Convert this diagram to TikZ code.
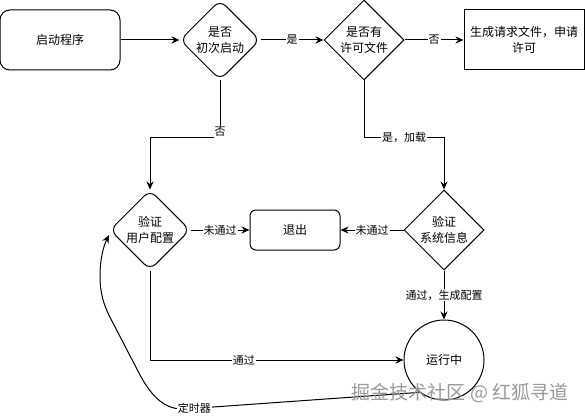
\documentclass[tikz,border=0pt]{standalone}
\usepackage{fontspec}
\setmainfont{Noto Sans CJK SC}
\usetikzlibrary{shapes.geometric,arrows.meta}
\begin{document}
\begin{tikzpicture}[x=1pt,y=-1pt,line width=1pt,
  every node/.style={font=\fontsize{12}{16}\selectfont,align=center},
  box/.style={draw,minimum width=120pt,minimum height=60pt,inner sep=0pt},
  dec/.style={draw,diamond,aspect=1,minimum width=80pt,minimum height=80pt,inner sep=0pt},
  lbl/.style={fill=white,font=\fontsize{11}{13}\selectfont,inner sep=1pt},
  arr/.style={-{Stealth[length=8pt,width=7pt]}}]
\useasboundingbox (0,0) rectangle (585,417);
% nodes
\node[box,rounded corners=10pt] (start) at (60,40) {启动程序};
\node[dec,rounded corners=8pt] (d1) at (220,40) {是否\\初次启动};
\node[dec] (d2) at (364,40) {是否有\\许可文件};
\node[box] (req) at (524,40) {生成请求文件，申请\\许可};
\node[dec,rounded corners=8pt] (d3) at (150,230) {验证\\用户配置};
\node[draw,rounded corners=6pt,minimum width=90pt,minimum height=40pt,inner sep=0pt] (exit) at (295,230) {退出};
\node[dec] (d4) at (444,230) {验证\\系统信息};
\node[draw,circle,minimum size=80pt,inner sep=0pt] (run) at (444,360) {运行中};
\coordinate (tin) at (109,235);
% connectors
\draw[arr] (start) -- (d1);
\draw[arr] (d1) -- node[lbl]{是} (d2);
\draw[arr] (d2) -- node[lbl]{否} (req);
\draw[arr] (d1.south) -- node[lbl,pos=0.9]{否} ++(0,57) -| (d3.north);
\draw[arr] (d2.south) -- ++(0,57) -| node[lbl,pos=0.25]{是，加载} (d4.north);
\draw[arr] (d3) -- node[lbl]{未通过} (exit);
\draw[arr] (d4) -- node[lbl]{未通过} (exit);
\draw[arr] (d4) -- node[lbl]{通过，生成配置} (run);
\draw[arr] (d3.south) |- node[lbl,pos=0.685]{通过} (run.west);
\draw[arr] (run.-127) -- node[lbl,pos=0.96]{定时器} (185,409)
  .. controls (165,410) and (152,397) .. (140,375) -- (113,323)
  .. controls (103,305) and (100,292) .. (100,276)
  .. controls (100,258) and (104,245) .. (tin);
% watermark
\node[text=black!40,font=\fontsize{19}{19}\selectfont] (wm) at (460,393) {掘金技术社区 @ 红狐寻道};
\end{tikzpicture}
\end{document}
